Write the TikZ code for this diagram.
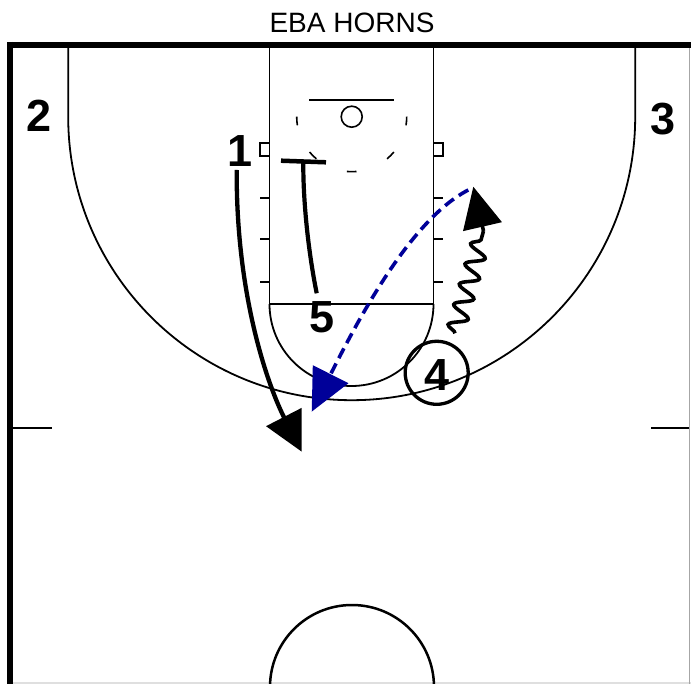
\documentclass[tikz,border=0pt]{standalone}
\usepackage{fontspec}
\setmainfont{Liberation Sans}
\usetikzlibrary{arrows.meta,decorations.pathmorphing,calc}
\definecolor{passblue}{RGB}{0,0,153}
\begin{document}
\begin{tikzpicture}[x=1pt,y=-1pt,
  court/.style={line width=1.8pt,black},
  edge/.style={line width=6.3pt,black},
  player/.style={font=\fontsize{45}{45}\selectfont\bfseries,inner sep=0pt},
  cutpath/.style={line width=4.3pt,-{Triangle[length=39pt,width=39pt]}},
  passpath/.style={line width=3.6pt,passblue,dash pattern=on 11pt off 6pt,-{Triangle[length=42pt,width=39pt]}},
  dribble/.style={line width=3.6pt,decorate,decoration={snake,amplitude=9pt,segment length=21pt,post length=3pt}},
  screenline/.style={line width=4.2pt}]
\useasboundingbox (0,0) rectangle (691,684);
\fill[white] (0,0) rectangle (691,684);
% title
\node[font=\fontsize{28}{28}\selectfont,inner sep=0pt] (title) at (352,23.3) {EBA HORNS};
% outer lines
\draw[gray!25,line width=2pt] (10,683) -- (691,683);
\draw[gray!70,line width=1.5pt] (689.3,45) -- (689.3,684);
\draw[edge] (7,45.2) -- (691,45.2);
\draw[edge] (10.3,42) -- (10.3,684);
% midcourt ticks
\draw[line width=2.3pt] (10,427.7) -- (52,427.7);
\draw[line width=2.3pt] (651,427.7) -- (689,427.7);
% three point line
\draw[court] (68.2,45) -- (68.2,116.7) arc[start angle=180,end angle=0,radius=283.5] -- (635.2,45);
% lane
\draw[court] (269.5,45) -- (269.5,304) -- (433.5,304) -- (433.5,45);
\draw[court] (269.5,304) arc[start angle=180,end angle=0,radius=82];
% lane hash marks and blocks
\foreach \yy in {197.7,239.3,282.3}{
  \draw[court] (260,\yy) -- (269.5,\yy);
  \draw[court] (433.5,\yy) -- (443,\yy);
}
\draw[line width=1.5pt] (260,143) rectangle (269.5,156);
\draw[line width=1.5pt] (433.5,143) rectangle (443,156);
% backboard and rim
\draw[line width=2pt] (309,100) -- (394,100);
\draw[line width=1.6pt] (351.7,116.7) circle[radius=10.5];
% restricted area dashes
\foreach \a/\b in {0/9,40/50,85/95,130/140,171/180}{
  \draw[line width=1.6pt] ($(351.7,116.7)+(\a:55)$) arc[start angle=\a,end angle=\b,radius=55];
}
% center circle
\draw[line width=2.5pt] (270,687) arc[start angle=180,end angle=360,radius=82];
% players
\node[player] (p2) at (39.5,115.8) {2};
\node[player] (p3) at (663.3,119.2) {3};
\node[player] (p1) at (240,151) {1};
\node[player] (p5) at (321.7,317.5) {5};
\node[player,draw,circle,line width=3.3pt,minimum size=63pt] (p4) at (436.7,372.8) {};
\node[player] (p4t) at (437.3,375.5) {4};
% player 1 cut
\coordinate (c0) at (236.7,170);
\coordinate (c1) at (301.7,451.7);
\draw[cutpath] (c0) .. controls (236,300) and (270,390) .. (c1);
% player 5 screen
\coordinate (s0) at (316.7,293.3);
\coordinate (s1) at (303.3,161.7);
\draw[screenline] (s0) .. controls (308,250) and (303,200) .. (s1);
\coordinate (t0) at (281,160.7);
\coordinate (t1) at (326,162.3);
\draw[line width=4.5pt] (t0) -- (t1);
% pass
\coordinate (q0) at (468.3,190);
\coordinate (q1) at (311.7,411.7);
\draw[passpath] (q0) .. controls (410,220) and (357,322) .. (q1);
% dribble
\coordinate (d0) at (455,333.3);
\coordinate (d1) at (483.5,231);
\coordinate (d2) at (473.3,186.7);
\draw[dribble] (d0) -- (d1);
\draw[line width=3.6pt,-{Triangle[length=41pt,width=39pt]}] (d1) -- (d2);
\end{tikzpicture}
\end{document}
